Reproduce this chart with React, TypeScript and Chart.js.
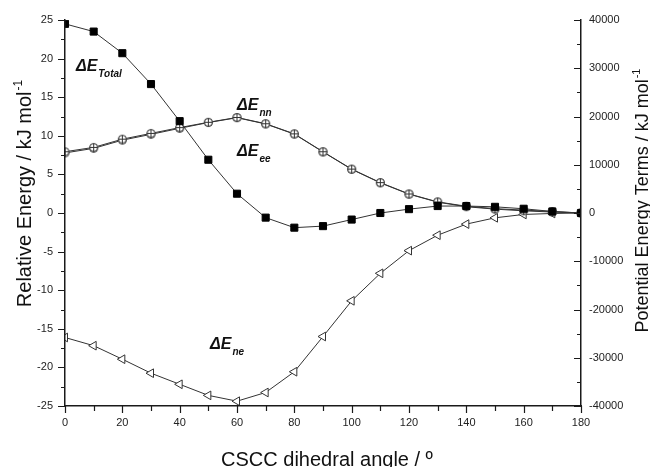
import React, { useEffect, useRef } from "react";
import { Chart, registerables } from "chart.js";

Chart.register(...registerables);

// ---------- data ----------
const angles = [0, 10, 20, 30, 40, 50, 60, 70, 80, 90, 100, 110, 120, 130, 140, 150, 160, 170, 180];
const totalEnergy = [24.5, 23.5, 20.7, 16.7, 11.9, 6.9, 2.5, -0.6, -1.9, -1.7, -0.85, 0.0, 0.5, 0.9, 0.9, 0.8, 0.55, 0.2, 0.0];
const nnEnergy = [12700, 13600, 15300, 16500, 17700, 18800, 19800, 18500, 16400, 12700, 9100, 6300, 3950, 2300, 1400, 900, 600, 300, 0];
const eeEnergy = [12450, 13400, 15100, 16300, 17550, 18750, 19750, 18450, 16350, 12650, 9050, 6250, 3900, 2250, 1300, 800, 450, 200, 0];
const neEnergy = [-25800, -27500, -30300, -33200, -35500, -37800, -39000, -37200, -32900, -25600, -18200, -12500, -7800, -4600, -2300, -1000, -300, -100, 0];

// axis ranges / ticks
const xMin = 0, xMax = 180, xMajor = 20, xMinor = 10;
const yLeftMin = -25, yLeftMax = 25, yLeftMajor = 5, yLeftMinor = 2.5;
const yRightMin = -40000, yRightMax = 40000, yRightMajor = 10000, yRightMinor = 5000;

// text annotations (data coords on x / left axis)
const annoMain = ["ΔE", "ΔE", "ΔE", "ΔE"];
const annoSub = ["Total", "nn", "ee", "ne"];
const annoX = [3.8, 60.0, 60.0, 50.6];
const annoY = [18.4, 13.3, 7.4, -17.6];

const xTitle = "CSCC dihedral angle / º";
const yLeftTitle = "Relative Energy / kJ mol";
const yRightTitle = "Potential Energy Terms / kJ mol";
const unitSup = "-1";

const FONT = '"Liberation Sans", Arial, Helvetica, sans-serif';
const AXIS = "#1a1a1a";
const LINE = "#333333";

function makeCirclePlus(): HTMLCanvasElement {
  const s = 11;
  const c = document.createElement("canvas");
  c.width = s;
  c.height = s;
  const g = c.getContext("2d")!;
  g.fillStyle = "#ffffff";
  g.strokeStyle = LINE;
  g.lineWidth = 1;
  g.beginPath();
  g.arc(5.5, 5.5, 4, 0, Math.PI * 2);
  g.fill();
  g.stroke();
  g.beginPath();
  g.moveTo(5.5, 1.5);
  g.lineTo(5.5, 9.5);
  g.moveTo(1.5, 5.5);
  g.lineTo(9.5, 5.5);
  g.stroke();
  return c;
}

function drawRotatedTitle(ctx: CanvasRenderingContext2D, main: string, sup: string, size: number, bx: number, cy: number) {
  ctx.save();
  ctx.translate(bx, cy);
  ctx.rotate(-Math.PI / 2);
  ctx.font = `${size}px ${FONT}`;
  const wMain = ctx.measureText(main).width;
  ctx.font = `${Math.round(size * 0.62)}px ${FONT}`;
  const wSup = ctx.measureText(sup).width;
  const start = -(wMain + wSup) / 2;
  ctx.fillStyle = "#111";
  ctx.textBaseline = "alphabetic";
  ctx.textAlign = "left";
  ctx.font = `${size}px ${FONT}`;
  ctx.fillText(main, start, 0);
  ctx.font = `${Math.round(size * 0.62)}px ${FONT}`;
  ctx.fillText(sup, start + wMain + 1, -size * 0.45);
  ctx.restore();
}

const decorPlugin = {
  id: "decor",
  afterDraw(chart: any) {
    const ctx: CanvasRenderingContext2D = chart.ctx;
    const xs = chart.scales.x;
    const yl = chart.scales.y;
    const yr = chart.scales.y1;
    const area = chart.chartArea;
    ctx.save();
    ctx.strokeStyle = AXIS;
    ctx.lineWidth = 1.2;
    ctx.beginPath();
    // left ticks (outward)
    for (let v = yLeftMin; v <= yLeftMax + 1e-9; v += yLeftMinor) {
      const major = Math.abs(Math.round(v / yLeftMajor) * yLeftMajor - v) < 1e-9;
      const len = major ? 7 : 4;
      const py = Math.round(yl.getPixelForValue(v)) + 0.5;
      ctx.moveTo(area.left - len, py);
      ctx.lineTo(area.left, py);
    }
    // right ticks (inward)
    for (let v = yRightMin; v <= yRightMax + 1e-9; v += yRightMinor) {
      const major = Math.abs(Math.round(v / yRightMajor) * yRightMajor - v) < 1e-9;
      const len = major ? 7 : 4;
      const py = Math.round(yr.getPixelForValue(v)) + 0.5;
      ctx.moveTo(area.right - len, py);
      ctx.lineTo(area.right, py);
    }
    // bottom ticks (outward)
    for (let v = xMin; v <= xMax + 1e-9; v += xMinor) {
      const major = Math.abs(Math.round(v / xMajor) * xMajor - v) < 1e-9;
      const len = major ? 7 : 5;
      const px = Math.round(xs.getPixelForValue(v)) + 0.5;
      ctx.moveTo(px, area.bottom);
      ctx.lineTo(px, area.bottom + len);
    }
    ctx.stroke();

    // annotations
    ctx.fillStyle = "#111";
    ctx.textBaseline = "alphabetic";
    ctx.textAlign = "left";
    for (let i = 0; i < annoMain.length; i++) {
      const px = xs.getPixelForValue(annoX[i]);
      const py = yl.getPixelForValue(annoY[i]);
      ctx.font = `italic bold 16px ${FONT}`;
      ctx.fillText(annoMain[i], px, py);
      const w = ctx.measureText(annoMain[i]).width;
      ctx.font = `italic bold 10px ${FONT}`;
      ctx.fillText(annoSub[i], px + w + 1, py + 6);
    }

    // axis titles
    ctx.font = `20px ${FONT}`;
    ctx.textAlign = "center";
    ctx.fillStyle = "#111";
    ctx.fillText(xTitle, (area.left + area.right) / 2 + 4, 466);
    drawRotatedTitle(ctx, yLeftTitle, unitSup, 20, 31, 194);
    drawRotatedTitle(ctx, yRightTitle, unitSup, 18, 648, 201);
    ctx.restore();
  },
};

function pts(values: number[]) {
  return angles.map((a, i) => ({ x: a, y: values[i] }));
}

export default function App() {
  const canvasRef = useRef<HTMLCanvasElement | null>(null);

  useEffect(() => {
    if (!canvasRef.current) return;
    const circlePlus = makeCirclePlus();
    const chart = new Chart(canvasRef.current, {
      type: "line",
      data: {
        datasets: [
          {
            label: "ΔE Total",
            data: pts(totalEnergy),
            yAxisID: "y",
            borderColor: LINE,
            borderWidth: 1,
            pointStyle: "rect",
            pointRadius: 5,
            pointBackgroundColor: "#000",
            pointBorderColor: "#000",
            pointBorderWidth: 1,
            clip: 0,
          },
          {
            label: "ΔE nn",
            data: pts(nnEnergy),
            yAxisID: "y1",
            borderColor: LINE,
            borderWidth: 1,
            pointStyle: circlePlus,
            pointRadius: 5,
            clip: 0,
          },
          {
            label: "ΔE ee",
            data: pts(eeEnergy),
            yAxisID: "y1",
            borderColor: LINE,
            borderWidth: 1,
            pointStyle: circlePlus,
            pointRadius: 5,
            clip: 0,
          },
          {
            label: "ΔE ne",
            data: pts(neEnergy),
            yAxisID: "y1",
            borderColor: LINE,
            borderWidth: 1,
            pointStyle: "triangle",
            pointRotation: -90,
            pointRadius: 5,
            pointBackgroundColor: "#fff",
            pointBorderColor: LINE,
            pointBorderWidth: 1,
            clip: 0,
          },
        ],
      },
      options: {
        animation: false,
        responsive: true,
        maintainAspectRatio: false,
        layout: { padding: { top: 20, left: 0, right: 0, bottom: 0 } },
        plugins: { legend: { display: false }, tooltip: { enabled: false } },
        elements: { line: { tension: 0 } },
        scales: {
          x: {
            type: "linear",
            min: xMin,
            max: xMax,
            position: "bottom",
            grid: { display: false, drawTicks: false },
            border: { display: true, color: AXIS, width: 1.5, z: 1 },
            ticks: {
              stepSize: xMajor,
              autoSkip: false,
              maxRotation: 0,
              padding: 10,
              color: "#222",
              font: { family: FONT, size: 11 },
            },
            afterFit: (s: any) => {
              s.height = 61;
            },
          },
          y: {
            type: "linear",
            position: "left",
            min: yLeftMin,
            max: yLeftMax,
            grid: { display: false, drawTicks: false },
            border: { display: true, color: AXIS, width: 1.5, z: 1 },
            ticks: {
              stepSize: yLeftMajor,
              padding: 12,
              color: "#222",
              font: { family: FONT, size: 11 },
              callback: (v: any) => String(v),
            },
            afterFit: (s: any) => {
              s.width = 65;
            },
          },
          y1: {
            type: "linear",
            position: "right",
            min: yRightMin,
            max: yRightMax,
            grid: { display: false, drawTicks: false },
            border: { display: true, color: AXIS, width: 1.5, z: 1 },
            ticks: {
              stepSize: yRightMajor,
              padding: 8,
              color: "#222",
              font: { family: FONT, size: 11 },
              callback: (v: any) => String(v),
            },
            afterFit: (s: any) => {
              s.width = 69;
            },
          },
        },
      } as any,
      plugins: [decorPlugin],
    });
    return () => chart.destroy();
  }, []);

  return (
    <div style={{ position: "fixed", left: 0, top: 0, width: 650, height: 467, background: "#fff" }}>
      <canvas ref={canvasRef} width={650} height={467} />
    </div>
  );
}
